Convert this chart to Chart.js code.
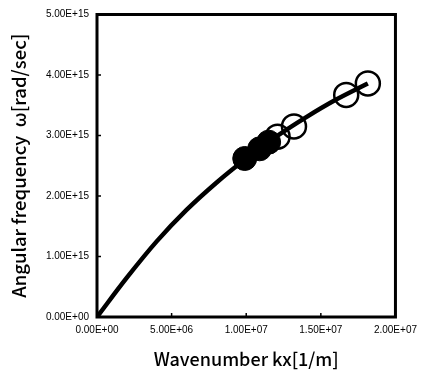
<!DOCTYPE html>
<html>
<head>
<meta charset="utf-8">
<script src="https://cdn.jsdelivr.net/npm/chart.js@4"></script>
<style>
  html, body { margin: 0; padding: 0; background: #fff; }
  #wrap { width: 424px; height: 376px; }
</style>
</head>
<body>
<div id="wrap"><canvas id="dispChart" width="424" height="376"></canvas></div>
<script>
// dispersion curve
const curveKx = [0, 2e6, 4e6, 6e6, 8e6, 1.0e7, 1.2e7, 1.4e7, 1.6e7, 1.815e7];
const curveOmega = [0, 0.65e15, 1.25e15, 1.77e15, 2.22e15, 2.62e15, 2.98e15, 3.3e15, 3.59e15, 3.86e15];

// filled markers
const filledKx = [9.9e6, 1.09e7, 1.15e7];
const filledOmega = [2.62e15, 2.78e15, 2.89e15];

// open markers
const openKx = [1.21e7, 1.32e7, 1.67e7, 1.815e7];
const openOmega = [2.98e15, 3.15e15, 3.67e15, 3.86e15];

const xTicks = [0, 5e6, 1e7, 1.5e7, 2e7];
const yTicks = [0, 1e15, 2e15, 3e15, 4e15, 5e15];

function pts(xs, ys) {
    return xs.map((x, i) => ({ x: x, y: ys[i] }));
}

function fmtE(v) {
    return v.toExponential(2).toUpperCase().replace(/E([+-])(\d)$/, 'E$10$2');
}

// frame round the plot + short inward ticks
const framePlugin = {
    id: 'frame',
    afterDraw(chart) {
        const { ctx, chartArea: a, scales } = chart;
        ctx.save();
        ctx.strokeStyle = '#000';
        ctx.lineWidth = 1.5;
        xTicks.forEach(t => {
            const px = scales.x.getPixelForValue(t);
            ctx.beginPath();
            ctx.moveTo(px, a.bottom);
            ctx.lineTo(px, a.bottom - 4);
            ctx.stroke();
        });
        yTicks.forEach(t => {
            const py = scales.y.getPixelForValue(t);
            ctx.beginPath();
            ctx.moveTo(a.left, py);
            ctx.lineTo(a.left + 4, py);
            ctx.stroke();
        });
        ctx.lineWidth = 3;
        ctx.strokeRect(a.left, a.top, a.right - a.left, a.bottom - a.top);
        ctx.restore();
    }
};

const ctx = document.getElementById('dispChart').getContext('2d');
new Chart(ctx, {
    type: 'scatter',
    data: {
        datasets: [
            {
                label: 'filled',
                data: pts(filledKx, filledOmega),
                pointRadius: 12,
                pointBackgroundColor: '#000',
                pointBorderColor: '#000',
                pointBorderWidth: 1,
                order: 0
            },
            {
                label: 'curve',
                data: pts(curveKx, curveOmega),
                showLine: true,
                borderColor: '#000',
                borderWidth: 4.5,
                pointRadius: 0,
                tension: 0.35,
                order: 1
            },
            {
                label: 'open',
                data: pts(openKx, openOmega),
                pointRadius: 12,
                pointBackgroundColor: 'rgba(255,255,255,0)',
                pointBorderColor: '#000',
                pointBorderWidth: 2.5,
                order: 2
            }
        ]
    },
    options: {
        responsive: false,
        animation: false,
        layout: { padding: { top: 12, right: 25, left: 0, bottom: 0 } },
        plugins: {
            legend: { display: false },
            tooltip: { enabled: false }
        },
        scales: {
            x: {
                type: 'linear',
                min: 0,
                max: 2e7,
                afterBuildTicks(s) { s.ticks = xTicks.map(v => ({ value: v })); },
                afterFit(s) { s.height = 59; },
                grid: { display: false, drawTicks: false },
                border: { display: false },
                ticks: {
                    padding: 7,
                    color: '#000',
                    font: { family: 'Liberation Sans', size: 10 },
                    callback: v => fmtE(v)
                },
                title: {
                    display: true,
                    text: 'Wavenumber kx[1/m]',
                    color: '#000',
                    font: { family: 'Noto Sans CJK JP', size: 18, weight: '500' },
                    padding: { top: 4, bottom: 6 }
                }
            },
            y: {
                type: 'linear',
                min: 0,
                max: 5e15,
                afterBuildTicks(s) { s.ticks = yTicks.map(v => ({ value: v })); },
                afterFit(s) { s.width = 97; },
                grid: { display: false, drawTicks: false },
                border: { display: false },
                ticks: {
                    padding: 8,
                    color: '#000',
                    font: { family: 'Liberation Sans', size: 10 },
                    callback: v => fmtE(v)
                },
                title: {
                    display: true,
                    text: 'Angular frequency  ω[rad/sec]',
                    color: '#000',
                    font: { family: 'Noto Sans CJK JP', size: 18.5, weight: '500' },
                    padding: { top: 8, bottom: 0 }
                }
            }
        }
    },
    plugins: [framePlugin]
});
</script>
</body>
</html>
